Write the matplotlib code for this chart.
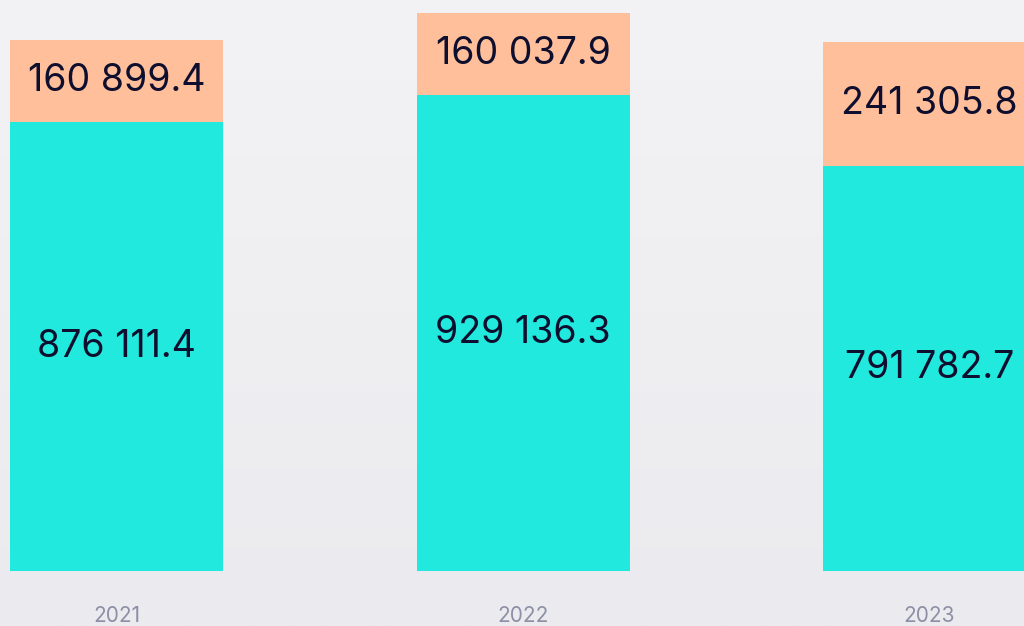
import numpy as np
import matplotlib
matplotlib.use("Agg")
import matplotlib.pyplot as plt

years = ["2021", "2022", "2023"]
base_values = [876111.4, 929136.3, 791782.7]
top_values = [160899.4, 160037.9, 241305.8]

def fmt(v):
    s = f"{v:,.1f}"
    return s.replace(",", " ")

plt.rcParams['font.family'] = ['Inter', 'DejaVu Sans']

W, H = 1024, 626
fig = plt.figure(figsize=(W / 100, H / 100), dpi=100)

# background gradient
bg = fig.add_axes([0, 0, 1, 1], zorder=0)
grad = np.linspace(0, 1, 256).reshape(-1, 1)
c_top = np.array([0xf3, 0xf3, 0xf5]) / 255
c_bot = np.array([0xeb, 0xeb, 0xef]) / 255
img = c_top[None, None, :] * (1 - grad[:, :, None]) + c_bot[None, None, :] * grad[:, :, None]
bg.imshow(img, aspect='auto', extent=[0, 1, 0, 1], origin='upper')
bg.axis('off')

base_px = 571
ax = fig.add_axes([0, (H - base_px) / H, 1, base_px / H], zorder=1)
ax.patch.set_alpha(0)
x = np.arange(len(years))
spacing = 406.5
x0 = 116.5
ax.set_xlim(-x0 / spacing, (W - x0) / spacing)
scale = 0.000512
ax.set_ylim(0, base_px / scale)

cyan = '#22e9dd'
peach = '#ffbf9b'
bw = 213 / spacing
ax.bar(x, base_values, width=bw, color=cyan, linewidth=0)
ax.bar(x, top_values, width=bw, bottom=base_values, color=peach, linewidth=0)

txt = '#0e0f2e'
for i in range(len(years)):
    ax.text(x[i], base_values[i] / 2, fmt(base_values[i]), ha='center', va='center',
            fontsize=27, color=txt)
    ax.text(x[i], base_values[i] + top_values[i] / 2, fmt(top_values[i]), ha='center',
            va='center', fontsize=27, color=txt)

ax.set_xticks(x)
ax.set_xticklabels(years, fontsize=15, color='#8c8fa6')
ax.tick_params(axis='x', length=0, pad=25)
ax.set_yticks([])
for s in ax.spines.values():
    s.set_visible(False)

fig.savefig('out.png', dpi=100)
